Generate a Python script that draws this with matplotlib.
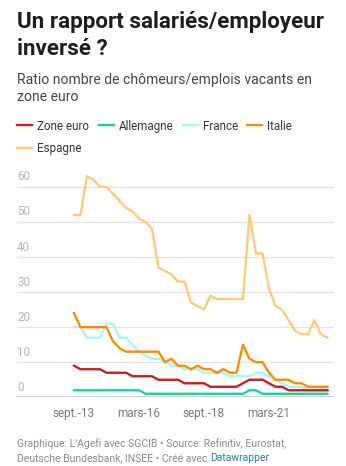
import matplotlib
matplotlib.use("Agg")
import matplotlib.pyplot as plt
import matplotlib.transforms as mtransforms
from matplotlib import font_manager as fm
from matplotlib.lines import Line2D
import numpy as np


def roboto(fichier):
    # le fichier variable Roboto[wdth,wght] est choisi par défaut, on prend les statiques
    for f in fm.fontManager.ttflist:
        if f.fname.endswith(fichier):
            return fm.FontProperties(fname=f.fname)
    return fm.FontProperties(family="DejaVu Sans")


REG = roboto("Roboto-Regular.ttf")
BOLD = roboto("Roboto-Bold.ttf")

# trimestres de sept. 2013 à juin 2023
zone_euro = [9, 8, 8, 8, 8, 7, 7, 7, 7, 6, 6, 6, 6, 5, 5, 5, 5, 4, 4, 4,
             4, 3, 3, 3, 3, 3, 4, 5, 5, 5, 4, 3, 3, 2, 2, 2, 2, 2, 2, 2]
allemagne = [2, 2, 2, 2, 2, 2, 2, 2, 2, 2, 2, 1, 1, 1, 1, 1, 1, 1, 1, 1,
             1, 1, 1, 1, 1, 1, 1, 2, 2, 1, 1, 1, 1, 1, 1, 1, 1, 1, 1, 1]
france = [20, 20, 17, 17, 17, 21, 21, 17, 17, 15, 13, 12, 11, 11, 10, 9, 9, 8, 8, 8,
          7, 7, 7, 7, 6, 6, 6, 6, 7, 7, 6, 5, 4, 3, 3, 3, 2, 2, 2, 2]
italie = [24, 20, 20, 20, 20, 20, 16, 14, 13, 13, 13, 13, 13, 13, 10, 11, 9, 9, 8, 9,
          8, 8, 7, 8, 7, 7, 15, 11, 10, 10, 7, 5, 5, 5, 4, 4, 3, 3, 3, 3]
espagne = [52, 52, 63, 62, 60, 60, 58, 56, 54, 53, 51, 50, 48, 37, 36, 35, 33, 33, 27, 26,
           25, 29, 28, 28, 28, 28, 28, 52, 41, 41, 31, 26, 25, 22, 19, 18, 18, 22, 18, 17]

series_names = ["Zone euro", "Allemagne", "France", "Italie", "Espagne"]
series_colors = ["#c71e1d", "#15d4a4", "#a3f7f7", "#fa8c00", "#ffca76"]

tick_pos = [0, 10, 20, 30]
tick_labels = ["sept.-13", "mars-16", "sept.-18", "mars-21"]
y_ticks = [0, 10, 20, 30, 40, 50, 60]

W, H = 346, 466
fig = plt.figure(figsize=(W / 100, H / 100), dpi=100)


def fy(px):
    return 1 - px / H


def fx(px):
    return px / W


def txt(x, y, s, size, color, fp=REG, **kw):
    return fig.text(fx(x), fy(y), s, fontproperties=fp, fontsize=size, color=color,
                    va="baseline", **kw)


# zone du graphique
x_left, x_right = 17, 334
y_zero, px_per_unit = 397.3, 3.507
ymax = 62
ax = fig.add_axes([fx(x_left), fy(y_zero), (x_right - x_left) / W, ymax * px_per_unit / H])

n = len(espagne)
x = np.arange(n)
step = 6.5
ax.set_xlim(-(74 - x_left) / step, (n - 1) + (x_right - 327.5) / step)
ax.set_ylim(0, ymax)

for v in y_ticks[1:]:
    ax.axhline(v, color="#e3e3e3", lw=0.9, zorder=0)
ax.axhline(0, color="#1d1d1d", lw=1.0, zorder=5)

data = [zone_euro, allemagne, france, italie, espagne]
order = [4, 2, 1, 0, 3]
for i in order:
    ax.plot(x, data[i], color=series_colors[i], lw=1.7, solid_joinstyle="round",
            zorder=3, clip_on=False)

# étiquettes de l'axe y au-dessus des lignes
off = mtransforms.offset_copy(ax.get_yaxis_transform(), fig=fig, x=0, y=3.5, units="dots")
for v in y_ticks:
    ax.text(0, v, str(v), transform=off, ha="left", va="bottom",
            fontproperties=REG, fontsize=8.4, color="#b3b3b3")

ax.set_xticks(tick_pos, tick_labels)
ax.tick_params(axis="x", length=0, pad=7, labelcolor="#777777")
for lab in ax.get_xticklabels():
    lab.set_fontproperties(REG)
    lab.set_fontsize(8.5)
ax.set_yticks([])
for s in ax.spines.values():
    s.set_visible(False)

# titre et sous-titre
txt(17, 28.3, "Un rapport salariés/employeur", 16.1, "#1d1d1d", BOLD)
txt(17, 55, "inversé ?", 16.1, "#1d1d1d", BOLD)
txt(17, 84, "Ratio nombre de chômeurs/emplois vacants en", 10.1, "#444444")
txt(17, 100.7, "zone euro", 10.1, "#444444")

# légende
leg_pos = [(17, 125.3), (99, 125.3), (183, 125.3), (247, 125.3), (17, 147.7)]
for (lx, ly), name, c in zip(leg_pos, series_names, series_colors):
    fig.add_artist(Line2D([fx(lx), fx(lx + 15)], [fy(ly), fy(ly)], color=c, lw=1.7,
                          transform=fig.transFigure))
    txt(lx + 20.3, ly + 4.6, name, 8.4, "#333333")

# source
txt(17, 446.7, "Graphique: L'Agefi avec SGCIB • Source: Refinitiv, Eurostat,", 7.5, "#888888")
t = txt(17, 461, "Deutsche Bundesbank, INSEE • Créé avec ", 7.5, "#888888")
fig.canvas.draw()
bb = t.get_window_extent()
fig.text(bb.x1 / W, fy(461), "Datawrapper", fontproperties=REG, fontsize=7.5,
         color="#1d81a2", va="baseline")

fig.savefig("out.png", dpi=100)
